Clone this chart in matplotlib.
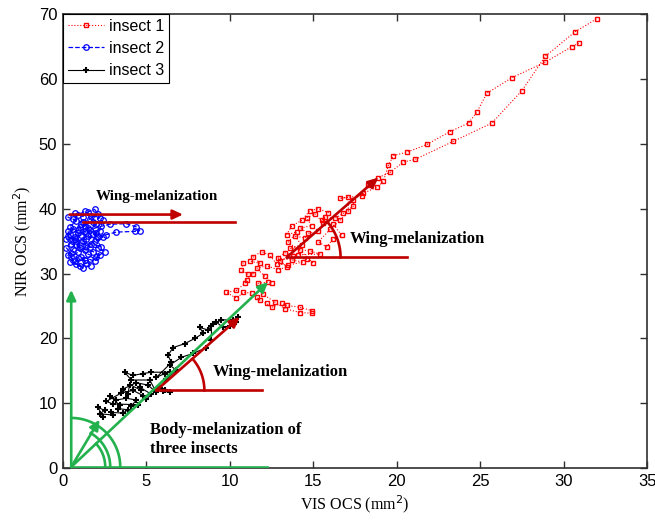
import numpy as np
import matplotlib
matplotlib.use("Agg")
import matplotlib.pyplot as plt

# ---------------- data ----------------
insect1_x = [30.9, 30.5, 28.9, 26.9, 25.4, 24.8, 24.3, 23.2, 21.8, 20.6, 19.8,
             19.5, 19.2, 18.8, 18.0, 17.4, 17.4, 16.8, 16.3, 15.7, 15.6, 15.1, 14.6, 14.9, 14.2,
             14.7, 15.3, 14.5, 13.9, 14.3, 13.6, 14.8, 15.4, 14.1, 13.3, 12.9, 13.7, 14.4, 13.5,
             12.8, 12.4, 11.9, 11.4, 11.8, 11.2, 10.8, 10.7, 11.1, 11.4, 11.0, 10.9, 10.4, 9.8,
             10.4, 10.8, 11.3, 11.6, 11.8, 12.2, 12.5, 13.1, 13.4, 14.2, 14.9, 14.9, 14.2, 13.3,
             12.7, 12.0, 11.7, 12.3, 12.5, 12.1, 11.6, 12.2, 12.9, 13.4, 13.0, 13.8, 14.6, 15.0,
             14.2, 13.5, 14.0, 13.4, 13.7, 14.3, 14.8, 15.3, 15.9, 15.5, 16.2, 16.7, 16.2, 15.8,
             15.3, 16.0, 16.6, 17.1, 17.1, 16.6, 17.9, 18.3, 18.9, 19.6, 20.4, 21.1, 23.4, 25.7,
             27.5, 28.9, 30.7, 32.0]
insect1_y = [65.5, 65.0, 62.6, 60.2, 57.8, 54.9, 53.2, 51.9, 49.9, 48.7, 48.2,
             46.7, 44.2, 43.3, 42.4, 41.4, 40.4, 39.3, 38.5, 38.7, 37.8, 39.2, 38.6, 37.4, 37.0,
             36.2, 36.5, 35.5, 35.8, 34.4, 33.9, 33.5, 33.0, 32.9, 33.2, 32.4, 32.1, 31.8, 31.3,
             31.5, 32.8, 33.4, 32.6, 31.6, 31.9, 31.7, 30.5, 29.9, 30.0, 29.0, 28.5, 27.4, 27.1,
             26.2, 27.1, 27.0, 26.4, 25.9, 25.4, 24.8, 25.4, 25.1, 24.8, 24.3, 23.9, 24.0, 24.6,
             25.6, 26.8, 28.5, 28.7, 28.5, 29.6, 30.8, 31.2, 30.6, 31.0, 32.0, 32.7, 32.2, 31.6,
             33.6, 34.8, 36.4, 36.0, 37.3, 38.2, 39.7, 40.0, 39.4, 38.2, 37.6, 35.9, 35.4, 34.1,
             34.9, 36.8, 38.2, 39.6, 41.8, 41.6, 42.0, 43.6, 44.8, 45.6, 47.2, 47.6, 50.4, 53.2,
             58.2, 63.5, 67.3, 69.3]

insect2_x = [0.3, 0.6, 0.2, 0.5, 0.9, 0.4, 1.0, 1.4, 1.1, 1.6, 1.9, 2.2, 1.8, 1.3, 0.8,
             1.2, 1.7, 2.3, 2.0, 1.5, 0.9, 0.4, 0.8, 0.3, 0.7, 1.2, 1.5, 1.9, 2.1, 1.6, 1.1,
             1.5, 2.0, 2.4, 2.2, 1.8, 1.3, 0.7, 0.2, 0.5, 1.0, 1.5, 2.0, 2.5, 2.1, 1.6, 1.1,
             0.6, 0.3, 0.7, 1.3, 1.7, 1.2, 0.8, 0.5, 0.9, 1.4, 1.9, 2.4, 2.0, 1.4, 0.8, 0.3,
             0.6, 1.0, 1.4, 1.9, 2.3, 2.8, 3.8, 4.4, 4.6, 4.3, 3.2, 2.6, 2.1, 1.6, 1.2, 0.6,
             0.9, 1.3, 1.7, 2.2, 1.8, 1.3, 0.9, 0.4, 0.7, 1.1]
insect2_y = [36.5, 35.2, 34.0, 33.1, 32.4, 31.8, 31.2, 31.6, 32.6, 32.2, 31.9, 32.8, 33.4, 33.7, 34.4,
             35.0, 34.6, 34.1, 35.3, 35.8, 36.3, 37.2, 38.1, 38.7, 39.3, 38.8, 39.5, 39.9, 39.2, 38.4, 37.6,
             37.0, 37.6, 38.3, 36.6, 36.1, 36.5, 35.7, 35.4, 34.6, 33.9, 33.0, 32.5, 33.4, 34.0, 34.1, 34.8,
             33.8, 32.8, 32.0, 32.1, 31.2, 30.9, 31.5, 32.5, 33.3, 34.3, 35.0, 35.6, 36.2, 35.3, 35.0, 35.8,
             36.8, 37.2, 36.3, 37.0, 37.3, 37.6, 37.7, 37.2, 36.6, 36.5, 36.4, 36.0, 35.6, 36.7, 37.9, 38.4,
             39.0, 39.6, 38.9, 38.6, 38.0, 37.4, 36.7, 36.1, 35.4, 36.0]

insect3_x = [2.4, 2.1, 2.5, 2.2, 3.0, 2.9, 3.6, 3.9, 3.3, 3.4, 2.8, 3.2, 3.8, 4.4, 4.1, 4.5,
             3.0, 2.6, 3.5, 4.2, 4.8, 5.0, 5.3, 4.6, 4.7, 4.0, 3.9, 3.6, 4.4, 5.1, 5.6, 5.2,
             4.1, 3.7, 4.2, 4.8, 5.3, 6.4, 6.1, 5.6, 6.5, 6.3, 6.6, 7.3, 7.9, 8.4, 8.2, 8.7,
             9.0, 9.2, 9.6, 10.0, 10.4, 10.5, 10.2, 9.5, 8.9, 8.9, 8.6, 7.8, 7.1, 6.4, 6.8,
             6.2, 5.8, 6.1, 6.4, 6.0, 5.7]
insect3_y = [7.9, 9.4, 8.9, 8.4, 8.2, 8.6, 8.5, 9.0, 9.2, 9.7, 11.2, 10.5, 10.8, 10.5, 9.6, 9.8,
             9.9, 10.3, 11.6, 12.0, 11.2, 10.6, 11.4, 12.5, 12.0, 12.9, 11.5, 12.2, 13.2, 12.8, 11.7, 13.6,
             13.6, 14.8, 14.3, 14.6, 14.8, 14.8, 14.6, 14.0, 16.3, 17.4, 18.6, 19.2, 20.0, 20.8, 21.7, 21.3,
             22.3, 22.5, 21.7, 22.0, 22.5, 23.3, 22.8, 22.9, 21.9, 19.7, 18.6, 17.7, 17.1, 15.9, 15.1,
             13.7, 12.3, 12.0, 11.7, 11.9, 12.2]

labels = ["insect 1", "insect 2", "insect 3"]
x_ticks = [0, 5, 10, 15, 20, 25, 30, 35]
y_ticks = [0, 10, 20, 30, 40, 50, 60, 70]

# annotation geometry (data coordinates)
green_origin = (0.5, 0.2)
green_vert_tip = (0.5, 27.5)
green_diag_tip = (12.3, 28.7)
green_small_tip = (2.2, 7.5)
green_horiz_end = (12.2, 0.2)
green_arcs = [(34, 0, 43), (39, 0, 60), (49, 0, 90)]   # radius px, start deg, end deg

red_top_arrow = ((0.4, 39.1), (7.2, 39.1))
red_top_line = ((1.2, 38.0), (10.3, 38.0))
red_mid_vertex = (13.4, 32.5)
red_mid_tip = (18.9, 44.8)
red_mid_hend = 20.6
red_mid_arc = (54, 0, 41.5)
red_low_vertex = (5.6, 12.0)
red_low_tip = (10.6, 23.3)
red_low_hend = 11.9
red_low_arc = (48, 0, 41)

# ---------------- figure ----------------
W, H, DPI = 655, 522, 100
fig = plt.figure(figsize=(W / DPI, H / DPI), dpi=DPI)
pos = [0.096, 0.103, 0.892, 0.870]
ax = fig.add_axes(pos)
sx = pos[2] * W / 35.0   # px per x unit
sy = pos[3] * H / 70.0   # px per y unit

RED = '#ff0000'
BLUE = '#0000ff'
GREEN = '#22b14c'
DRED = '#c00000'

ax.plot(insect1_x, insect1_y, color=RED, ls=':', lw=0.8, marker='s', ms=3.2,
        mfc='none', mec=RED, mew=1.0, label=labels[0])
ax.plot(insect2_x, insect2_y, color=BLUE, ls='--', lw=0.9, marker='o', ms=4.0,
        mfc='none', mec=BLUE, mew=0.9, label=labels[1])
ax.plot(insect3_x, insect3_y, color='black', ls='-', lw=0.8, marker='+', ms=4.2,
        mew=1.5, label=labels[2])

LW = 1.9

def arrow(p0, p1, color):
    ax.annotate('', xy=p1, xytext=p0,
                arrowprops=dict(arrowstyle='-|>,head_length=0.6,head_width=0.28',
                                color=color, lw=LW, shrinkA=0, shrinkB=0),
                zorder=5)

def arc(c, spec, color):
    r, t0, t1 = spec
    t = np.radians(np.linspace(t0, t1, 80))
    ax.plot(c[0] + r * np.cos(t) / sx, c[1] + r * np.sin(t) / sy, color=color, lw=LW,
            zorder=5)

# green body-melanization geometry
arrow(green_origin, green_vert_tip, GREEN)
arrow(green_origin, green_diag_tip, GREEN)
arrow(green_origin, green_small_tip, GREEN)
ax.plot([green_origin[0], green_horiz_end[0]], [green_origin[1], green_horiz_end[1]],
        color=GREEN, lw=LW, zorder=5)
for spec in green_arcs:
    arc(green_origin, spec, GREEN)

# red wing-melanization geometry
arrow(red_top_arrow[0], red_top_arrow[1], DRED)
ax.plot([red_top_line[0][0], red_top_line[1][0]], [red_top_line[0][1], red_top_line[1][1]],
        color=DRED, lw=LW, zorder=5)
arrow(red_mid_vertex, red_mid_tip, DRED)
ax.plot([red_mid_vertex[0], red_mid_hend], [red_mid_vertex[1], red_mid_vertex[1]],
        color=DRED, lw=LW, zorder=5)
arc(red_mid_vertex, red_mid_arc, DRED)
arrow(red_low_vertex, red_low_tip, DRED)
ax.plot([red_low_vertex[0], red_low_hend], [red_low_vertex[1], red_low_vertex[1]],
        color=DRED, lw=LW, zorder=5)
arc(red_low_vertex, red_low_arc, DRED)

tfont = dict(family='Liberation Serif', weight='bold')
ax.text(2.0, 41.9, 'Wing-melanization', fontsize=10.8, va='center', ha='left', **tfont)
ax.text(17.2, 35.4, 'Wing-melanization', fontsize=12, va='center', ha='left', **tfont)
ax.text(9.0, 14.8, 'Wing-melanization', fontsize=12, va='center', ha='left', **tfont)
ax.text(5.2, 4.4, 'Body-melanization of\nthree insects', fontsize=12, va='center',
        ha='left', linespacing=1.2, **tfont)

ax.set_xlim(0, 35)
ax.set_ylim(0, 70)
ax.set_xticks(x_ticks)
ax.set_yticks(y_ticks)
ax.tick_params(direction='in', length=5, width=1, top=True, right=True,
               labelsize=12, pad=4, color='#303030')
for lab in ax.get_xticklabels() + ax.get_yticklabels():
    lab.set_fontfamily('Liberation Sans')
for s in ax.spines.values():
    s.set_color('#303030')
    s.set_linewidth(1.2)

ax.set_xlabel('VIS OCS (mm$^2$)', fontsize=11.5, family='Liberation Serif', labelpad=3)
ax.set_ylabel('NIR OCS (mm$^2$)', fontsize=11.5, family='Liberation Serif', labelpad=4)

leg = ax.legend(loc='upper left', borderaxespad=0, fancybox=False, edgecolor='black',
                framealpha=1, prop={'family': 'Liberation Sans', 'size': 11.5},
                handlelength=2.3, handletextpad=0.3, borderpad=0.3, labelspacing=0.45)
leg.get_frame().set_linewidth(0.8)

fig.savefig('out.png', dpi=DPI)
